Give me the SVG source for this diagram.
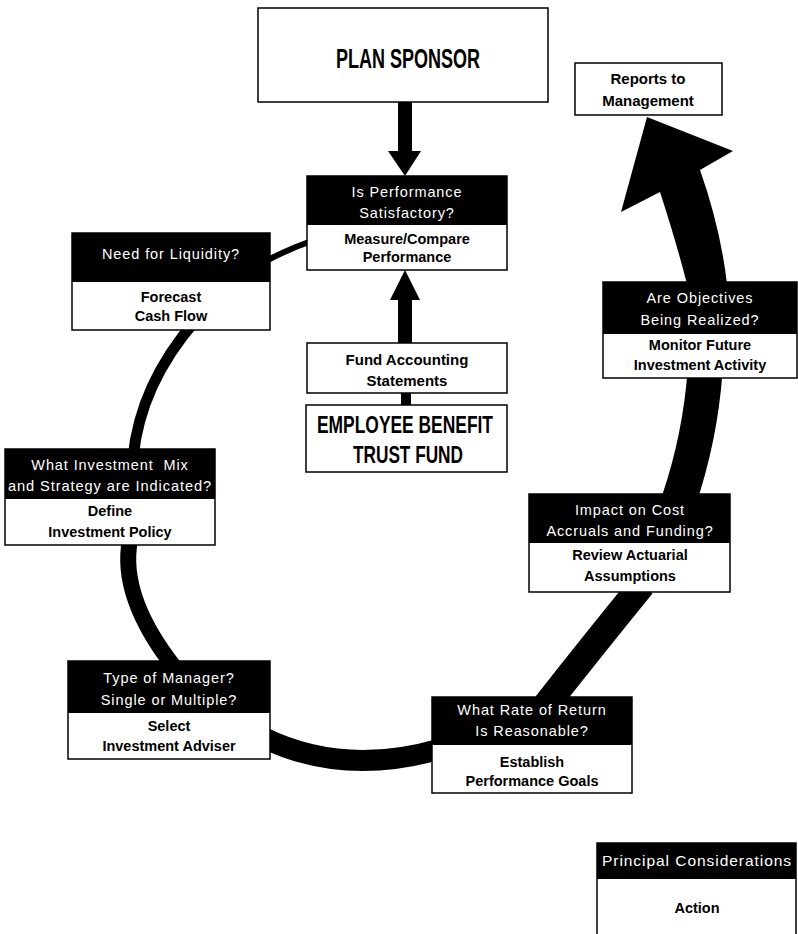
<svg xmlns="http://www.w3.org/2000/svg" width="798" height="934" viewBox="0 0 798 934">
<style>
.box{fill:#fff;stroke:#000;stroke-width:1.5}
.band{fill:#000}
.q{font-family:"Liberation Sans",Arial,sans-serif;font-size:14.5px;fill:#fff;text-anchor:middle;letter-spacing:0.9px;white-space:pre}
.a{font-family:"Liberation Sans",Arial,sans-serif;font-size:14.5px;font-weight:bold;fill:#000;text-anchor:middle}
.big{font-family:"Liberation Sans",Arial,sans-serif;font-weight:bold;fill:#000;text-anchor:middle}
.arc{fill:none;stroke:#000}
</style>
<rect width="798" height="934" fill="#fff"/>
<g id="connectors">
<path class="arc" d="M315,240 Q290,248 262,263" stroke-width="6"/>
<path class="arc" d="M196,320 Q140,384 133,458" stroke-width="11"/>
<path class="arc" d="M130,540 Q119,597 175,668" stroke-width="16"/>
<path class="arc" d="M262,737 Q343,777 440,749" stroke-width="21"/>
<path class="arc" d="M546,705 Q590,649 642,585" stroke-width="27"/>
<path class="arc" d="M679,500 Q700,438 705,372" stroke-width="35"/>
<path d="M689,292 L687,284 Q676.5,243 660,192 L621,212 L647,117 L733,151 L700,170 Q720.5,228 727,284 L728,292 Z" fill="#000"/>
<rect x="398" y="102" width="14" height="50" fill="#000"/>
<polygon points="388,151 421,151 405,176" fill="#000"/>
<polygon points="405,270 390,300 420,300" fill="#000"/>
<rect x="398" y="299" width="14" height="45" fill="#000"/>
<rect x="401" y="392" width="10" height="14" fill="#000"/>
</g>
<g id="plan-sponsor">
<rect class="box" x="258" y="8" width="290" height="94"/>
<text class="big" x="408" y="68" font-size="27" textLength="144" lengthAdjust="spacingAndGlyphs">PLAN SPONSOR</text>
</g>
<g id="reports">
<rect class="box" x="575" y="63" width="147" height="52"/>
<text class="a" x="648" y="84" style="font-size:15px">Reports to</text>
<text class="a" x="648" y="106" style="font-size:15px">Management</text>
</g>
<g id="measure">
<rect class="box" x="307" y="176" width="200" height="94"/>
<rect class="band" x="307" y="176" width="200" height="49"/>
<text class="q" x="407" y="197">Is Performance</text>
<text class="q" x="407" y="218">Satisfactory?</text>
<text class="a" x="407" y="244">Measure/Compare</text>
<text class="a" x="407" y="262">Performance</text>
</g>
<g id="forecast">
<rect class="box" x="72" y="233" width="198" height="97"/>
<rect class="band" x="72" y="233" width="198" height="49"/>
<text class="q" x="171" y="259">Need for Liquidity?</text>
<text class="a" x="171" y="302">Forecast</text>
<text class="a" x="171" y="321">Cash Flow</text>
</g>
<g id="fund-accounting">
<rect class="box" x="307" y="343" width="200" height="50"/>
<text class="a" x="407" y="365" style="font-size:15px">Fund Accounting</text>
<text class="a" x="407" y="386" style="font-size:15px">Statements</text>
</g>
<g id="trust-fund">
<rect class="box" x="306" y="405" width="201" height="67"/>
<text class="big" x="405" y="433" font-size="24" textLength="176" lengthAdjust="spacingAndGlyphs">EMPLOYEE BENEFIT</text>
<text class="big" x="408" y="463" font-size="24" textLength="110" lengthAdjust="spacingAndGlyphs">TRUST FUND</text>
</g>
<g id="monitor">
<rect class="box" x="603" y="282" width="194" height="96"/>
<rect class="band" x="603" y="282" width="194" height="52"/>
<text class="q" x="700" y="303">Are Objectives</text>
<text class="q" x="700" y="325">Being Realized?</text>
<text class="a" x="700" y="350">Monitor Future</text>
<text class="a" x="700" y="370">Investment Activity</text>
</g>
<g id="policy">
<rect class="box" x="5" y="449" width="210" height="96"/>
<rect class="band" x="5" y="449" width="210" height="50"/>
<text class="q" x="110" y="470">What Investment  Mix</text>
<text class="q" x="110" y="491" textLength="204" lengthAdjust="spacingAndGlyphs">and Strategy are Indicated?</text>
<text class="a" x="110" y="516">Define</text>
<text class="a" x="110" y="537">Investment Policy</text>
</g>
<g id="actuarial">
<rect class="box" x="529" y="494" width="201" height="98"/>
<rect class="band" x="529" y="494" width="201" height="49"/>
<text class="q" x="630" y="515">Impact on Cost</text>
<text class="q" x="630" y="536">Accruals and Funding?</text>
<text class="a" x="630" y="560">Review Actuarial</text>
<text class="a" x="630" y="581">Assumptions</text>
</g>
<g id="adviser">
<rect class="box" x="68" y="661" width="202" height="98"/>
<rect class="band" x="68" y="661" width="202" height="52"/>
<text class="q" x="169" y="683">Type of Manager?</text>
<text class="q" x="169" y="705">Single or Multiple?</text>
<text class="a" x="169" y="731">Select</text>
<text class="a" x="169" y="751">Investment Adviser</text>
</g>
<g id="goals">
<rect class="box" x="432" y="697" width="200" height="96"/>
<rect class="band" x="432" y="697" width="200" height="48"/>
<text class="q" x="532" y="715">What Rate of Return</text>
<text class="q" x="532" y="736">Is Reasonable?</text>
<text class="a" x="532" y="767">Establish</text>
<text class="a" x="532" y="786">Performance Goals</text>
</g>
<g id="legend">
<rect class="box" x="597" y="843" width="199" height="95"/>
<rect class="band" x="597" y="843" width="199" height="36"/>
<text class="q" x="697" y="866" textLength="190" lengthAdjust="spacingAndGlyphs" style="font-size:15px">Principal Considerations</text>
<text class="a" x="697" y="913">Action</text>
</g>
</svg>
